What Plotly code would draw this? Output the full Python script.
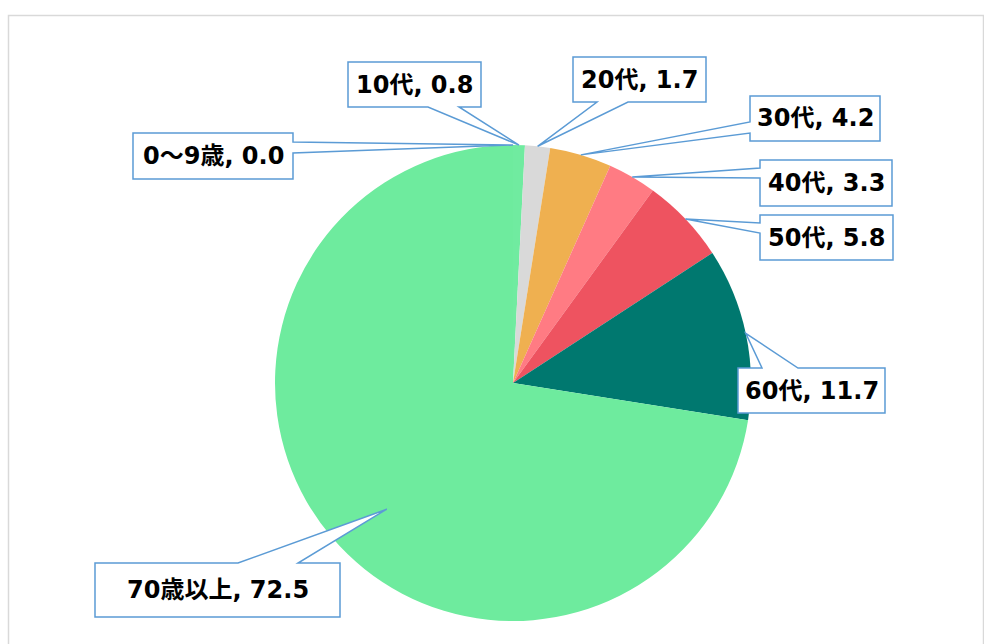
import math
import plotly.graph_objects as go

# ---- data ----
categories = ["0～9歳", "10代", "20代", "30代", "40代", "50代", "60代", "70歳以上"]
values = [0.0, 0.8, 1.7, 4.2, 3.3, 5.8, 11.7, 72.5]
colors = ["#6EEB9E", "#70EBA0", "#D9D9D9", "#EFB050", "#FF7B83", "#EE5360", "#00786F", "#6EEB9E"]

W, H = 984, 644
CX, CY, R = 513, 383, 238  # pie centre / radius in pixels


def px(x):
    return x / W


def py(y):
    return 1 - y / H


fig = go.Figure()
fig.add_trace(go.Pie(
    labels=categories,
    values=values,
    sort=False,
    direction="clockwise",
    rotation=0,
    marker=dict(colors=colors, line=dict(width=0)),
    textinfo="none",
    hoverinfo="label+value",
    showlegend=False,
    domain=dict(x=[px(CX - R), px(CX + R)], y=[py(CY + R), py(CY - R)]),
))

# anchors on pie edge from data (mid angles)
total = sum(values)
anchors = []
cum = 0.0
for v in values:
    mid = (cum + v / 2) / total * 2 * math.pi
    anchors.append((CX + R * math.sin(mid), CY - R * math.cos(mid)))
    cum += v
# the large slice's callout points inside the slice
ang = 225 / 180 * math.pi
anchors[-1] = (CX + 0.75 * R * math.sin(ang), CY - 0.75 * R * math.cos(ang))

# callout boxes: (x0, y0, x1, y1), side, base span
boxes = [
    ((133, 133, 293, 179), "right", (142, 153)),
    ((348, 62, 481, 107), "bottom", (428, 459)),
    ((573, 57, 706, 102), "bottom", (597, 628)),
    ((750, 96, 880, 141), "left", (122, 133)),
    ((760, 160, 892, 206), "left", (168, 178)),
    ((760, 215, 893, 260), "left", (223, 233)),
    ((738, 368, 885, 413), "top", (762, 798)),
    ((95, 563, 340, 617), "top", (238, 298)),
]


def P(x, y):
    return f"{px(x):.5f},{py(y):.5f}"


shapes = []
annotations = []
for (cat, val, (bx, side, (a, b)), (tx, ty)) in zip(categories, values, boxes, anchors):
    x0, y0, x1, y1 = bx
    if side == "top":
        pts = [(x0, y0), (a, y0), (tx, ty), (b, y0), (x1, y0), (x1, y1), (x0, y1)]
    elif side == "bottom":
        pts = [(x0, y0), (x1, y0), (x1, y1), (b, y1), (tx, ty), (a, y1), (x0, y1)]
    elif side == "left":
        pts = [(x0, y0), (x1, y0), (x1, y1), (x0, y1), (x0, b), (tx, ty), (x0, a)]
    else:  # right
        pts = [(x0, y0), (x1, y0), (x1, a), (tx, ty), (x1, b), (x1, y1), (x0, y1)]
    path = "M " + " L ".join(P(*p) for p in pts) + " Z"
    shapes.append(dict(type="path", xref="paper", yref="paper", path=path,
                       fillcolor="white", line=dict(color="#5B9BD5", width=1.5)))
    annotations.append(dict(
        x=px((x0 + x1) / 2), y=py((y0 + y1) / 2), xref="paper", yref="paper",
        text=f"<b>{cat}, {val:.1f}</b>", showarrow=False,
        font=dict(family="DejaVu Sans, Noto Sans CJK JP", size=24, color="black"),
        xanchor="center", yanchor="middle",
    ))

# outer chart frame
shapes.insert(0, dict(type="rect", xref="paper", yref="paper",
                      x0=px(8.5), y0=py(700), x1=px(983.5), y1=py(15.5),
                      line=dict(color="#D9D9D9", width=1.5)))

fig.update_layout(
    width=W, height=H,
    margin=dict(l=0, r=0, t=0, b=0),
    paper_bgcolor="white",
    plot_bgcolor="white",
    shapes=shapes,
    annotations=annotations,
)

fig.write_html(
    "out.html",
    config={"displayModeBar": False},
    post_script="document.body.style.margin='0';document.body.style.overflow='hidden';",
)
